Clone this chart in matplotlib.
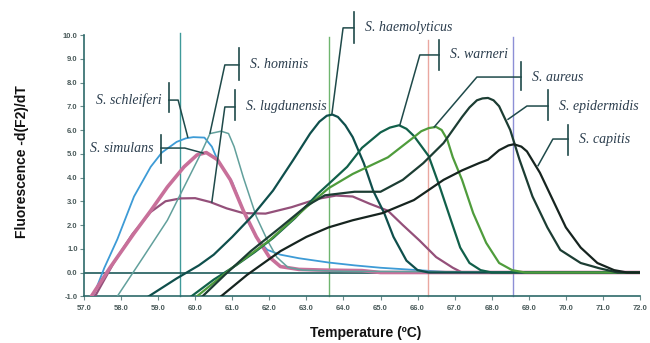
import matplotlib
matplotlib.use("Agg")
import matplotlib.pyplot as plt

# melt curves: temperature (C), -d(F2)/dT
schleiferi_t = [57.25, 57.55, 57.9, 58.35, 58.8, 59.1, 59.5, 59.75, 59.95, 60.25, 60.45, 60.6,
                61.0, 61.4, 61.7, 61.95, 62.3, 62.8, 63.6, 64.3, 65.0, 66.0, 66.8, 72.0]
schleiferi_v = [-1.0, 0.2, 1.4, 3.2, 4.45, 5.05, 5.5, 5.65, 5.7, 5.68, 5.3, 4.75,
                3.8, 2.2, 1.35, 0.95, 0.75, 0.6, 0.42, 0.3, 0.2, 0.1, 0.02, 0.0]

simulans_t = [57.2, 57.7, 58.35, 58.8, 59.25, 59.7, 60.05, 60.3, 60.6, 60.95, 61.3, 61.65,
              62.0, 62.3, 62.8, 63.5, 64.5, 65.0, 72.0]
simulans_v = [-1.0, 0.2, 1.65, 2.6, 3.6, 4.45, 4.95, 5.05, 4.75, 3.9, 2.6, 1.5,
              0.65, 0.25, 0.13, 0.1, 0.08, 0.0, 0.0]

lugdunensis_t = [57.3, 57.8, 58.3, 58.8, 59.2, 59.6, 60.0, 60.4, 60.85, 61.3, 61.9, 62.6,
                 63.3, 63.8, 64.25, 64.7, 65.2, 65.6, 66.05, 66.5, 66.95, 67.2, 72.0]
lugdunensis_v = [-1.0, 0.4, 1.6, 2.55, 3.0, 3.12, 3.13, 2.97, 2.7, 2.5, 2.48, 2.75,
                 3.1, 3.24, 3.2, 2.9, 2.6, 2.0, 1.35, 0.65, 0.2, 0.0, 0.0]

hominis_t = [57.9, 58.6, 59.25, 59.7, 60.15, 60.4, 60.7, 60.9, 61.05, 61.3, 61.65, 61.95,
             62.2, 62.5, 62.9, 64.0, 72.0]
hominis_v = [-1.0, 0.65, 2.2, 3.6, 5.0, 5.85, 5.95, 5.85, 5.3, 4.0, 2.35, 1.35,
             0.65, 0.22, 0.1, 0.05, 0.0]

haemolyticus_t = [58.75, 59.5, 60.1, 60.5, 61.0, 61.55, 62.1, 62.65, 63.1, 63.35, 63.55, 63.7,
                  63.85, 64.05, 64.25, 64.55, 64.8, 65.1, 65.35, 65.7, 66.0, 66.3, 72.0]
haemolyticus_v = [-1.0, -0.25, 0.3, 0.75, 1.5, 2.4, 3.45, 4.75, 5.85, 6.35, 6.6, 6.65,
                  6.55, 6.2, 5.7, 4.6, 3.45, 2.5, 1.5, 0.5, 0.1, 0.0, 0.0]

warneri_t = [59.9, 60.5, 61.1, 61.6, 62.1, 62.7, 63.3, 63.65, 64.1, 64.5, 65.0, 65.25,
             65.5, 65.7, 65.9, 66.3, 66.6, 66.9, 67.15, 67.4, 67.7, 68.0, 72.0]
warneri_v = [-1.0, -0.3, 0.3, 0.85, 1.45, 2.3, 3.3, 3.8, 4.45, 5.25, 5.9, 6.1,
             6.2, 6.05, 5.75, 4.9, 3.6, 2.2, 1.05, 0.4, 0.1, 0.0, 0.0]

aureus_t = [60.05, 61.0, 62.0, 63.0, 63.6, 64.25, 65.2, 65.9, 66.1, 66.3, 66.5, 66.65,
            66.8, 66.95, 67.2, 67.5, 67.85, 68.2, 68.55, 68.9, 72.0]
aureus_v = [-1.0, 0.2, 1.35, 2.75, 3.55, 4.15, 4.85, 5.7, 5.95, 6.08, 6.13, 6.0,
            5.6, 4.85, 3.9, 2.5, 1.25, 0.4, 0.1, 0.0, 0.0]

epidermidis_t = [60.2, 60.8, 61.5, 62.3, 63.0, 63.5, 64.3, 65.0, 65.6, 66.15, 66.7, 67.2,
                 67.4, 67.6, 67.75, 67.9, 68.05, 68.2, 68.5, 68.75, 69.1, 69.5, 69.85,
                 70.4, 70.9, 71.4, 72.0]
epidermidis_v = [-1.0, -0.1, 0.9, 1.9, 2.8, 3.25, 3.4, 3.4, 3.9, 4.6, 5.45, 6.55,
                 6.95, 7.25, 7.33, 7.35, 7.25, 7.0, 6.0, 4.75, 3.2, 1.9, 0.95,
                 0.4, 0.18, 0.0, 0.0]

capitis_t = [60.7, 61.4, 62.3, 63.0, 63.6, 64.25, 65.05, 65.9, 66.7, 67.2, 67.65, 67.9,
             68.2, 68.45, 68.6, 68.8, 68.95, 69.3, 69.65, 70.0, 70.4, 70.85, 71.3, 71.65, 72.0]
capitis_v = [-1.0, -0.1, 0.9, 1.5, 1.9, 2.2, 2.5, 3.05, 3.9, 4.3, 4.6, 4.75,
             5.15, 5.35, 5.4, 5.3, 5.1, 4.2, 3.05, 1.9, 1.05, 0.4, 0.1, 0.0, 0.0]

# reference melting-point markers
marker_temps = [59.58, 63.6, 66.28, 68.58]
marker_tops = [10.08, 9.9, 9.77, 9.9]
marker_colors = ["#3f9a9a", "#6fb56f", "#eaa7a0", "#8d8fd6"]

x_ticks = [57.0 + i for i in range(16)]
y_ticks = [-1.0 + i for i in range(12)]

curves = [
    (schleiferi_t, schleiferi_v, "#3d9bd6", 1.3),
    (lugdunensis_t, lugdunensis_v, "#94507a", 1.6),
    (simulans_t, simulans_v, "#c8709a", 2.6),
    (hominis_t, hominis_v, "#62a09c", 1.1),
    (haemolyticus_t, haemolyticus_v, "#0f4f4c", 1.6),
    (warneri_t, warneri_v, "#11604a", 1.6),
    (aureus_t, aureus_v, "#4f9c3c", 1.6),
    (epidermidis_t, epidermidis_v, "#1c3d33", 1.6),
    (capitis_t, capitis_v, "#16241f", 1.6),
]

# label layout: text, bar x, bar y0, bar y1, elbow x, elbow y, curve point, text side
labels = [
    ("S. haemolyticus", 64.28, 9.66, 10.97, 63.99, 10.3, (63.69, 6.7), "right"),
    ("S. warneri", 66.58, 8.53, 9.79, 66.06, 9.16, (65.52, 6.2), "right"),
    ("S. aureus", 68.79, 7.68, 8.86, 67.6, 8.23, (66.45, 6.13), "right"),
    ("S. epidermidis", 69.52, 6.42, 7.68, 68.95, 7.01, (68.44, 6.45), "right"),
    ("S. capitis", 70.06, 4.95, 6.21, 69.65, 5.62, (69.25, 4.5), "right"),
    ("S. hominis", 61.18, 8.1, 9.45, 60.8, 8.74, (60.4, 5.87), "right"),
    ("S. lugdunensis", 61.07, 6.42, 7.68, 60.8, 6.97, (60.45, 2.97), "right"),
    ("S. schleiferi", 59.29, 6.76, 7.98, 59.54, 7.26, (59.8, 5.7), "left"),
    ("S. simulans", 59.08, 4.61, 5.79, 59.72, 5.24, (60.21, 5.03), "left"),
]

axis_col = "#2d6a6a"
lead_col = "#1f4a4a"

fig = plt.figure(figsize=(6.5, 3.43), dpi=100)
ax = fig.add_axes([0.1292, 0.1363, 0.8554, 0.7824])
ax.set_xlim(57, 72)
ax.set_ylim(-1, 10.3)

for t, top, c in zip(marker_temps, marker_tops, marker_colors):
    ax.plot([t, t], [-1, top], color=c, lw=1.0, clip_on=False, zorder=1)

ax.axhline(0, color="#1e5a5a", lw=1.2, zorder=2)

for t, v, c, lw in curves:
    ax.plot(t, v, color=c, lw=lw, solid_joinstyle="round", zorder=3)

for text, bx, by0, by1, ex, ey, (px, py), side in labels:
    ax.plot([bx, bx], [by0, by1], color=lead_col, lw=1.2, clip_on=False, zorder=4)
    ax.plot([bx, ex, px], [ey, ey, py], color=lead_col, lw=1.1, clip_on=False, zorder=4)
    if side == "right":
        ax.text(bx + 0.3, ey, text, ha="left", va="center", fontsize=10,
                family="Liberation Serif", style="italic", color="#2b3d4d")
    else:
        ax.text(bx - 0.2, ey, text, ha="right", va="center", fontsize=10,
                family="Liberation Serif", style="italic", color="#2b3d4d")

for s in ["top", "right"]:
    ax.spines[s].set_visible(False)
ax.spines["left"].set_bounds(-1, 10)
ax.spines["left"].set_color(axis_col)
ax.spines["bottom"].set_color(axis_col)
ax.spines["left"].set_linewidth(1.2)
ax.spines["bottom"].set_linewidth(1.2)

ax.set_xticks(x_ticks)
ax.set_xticklabels(["%.1f" % x for x in x_ticks])
ax.set_yticks(y_ticks)
ax.set_yticklabels(["%.1f" % y for y in y_ticks])
ax.tick_params(axis="both", labelsize=5.5, labelcolor="#4a5a5a", color="#6a8a8a",
               length=3, width=0.8)
ax.tick_params(axis="x", pad=3)
ax.tick_params(axis="y", pad=1.5)
for lab in ax.get_xticklabels() + ax.get_yticklabels():
    lab.set_fontweight("bold")
    lab.set_family("Liberation Sans")

fig.text(22 / 650, 1 - 162 / 343, "Fluorescence -d(F2)/dT", rotation=90, ha="center",
         va="center", fontsize=10, fontweight="bold", family="Liberation Sans", color="#111111")
fig.text(366 / 650, 1 - 333 / 343, "Temperature (\u00baC)", ha="center", va="center",
         fontsize=10, fontweight="bold", family="Liberation Sans", color="#111111")

fig.savefig("out.png", dpi=100)
